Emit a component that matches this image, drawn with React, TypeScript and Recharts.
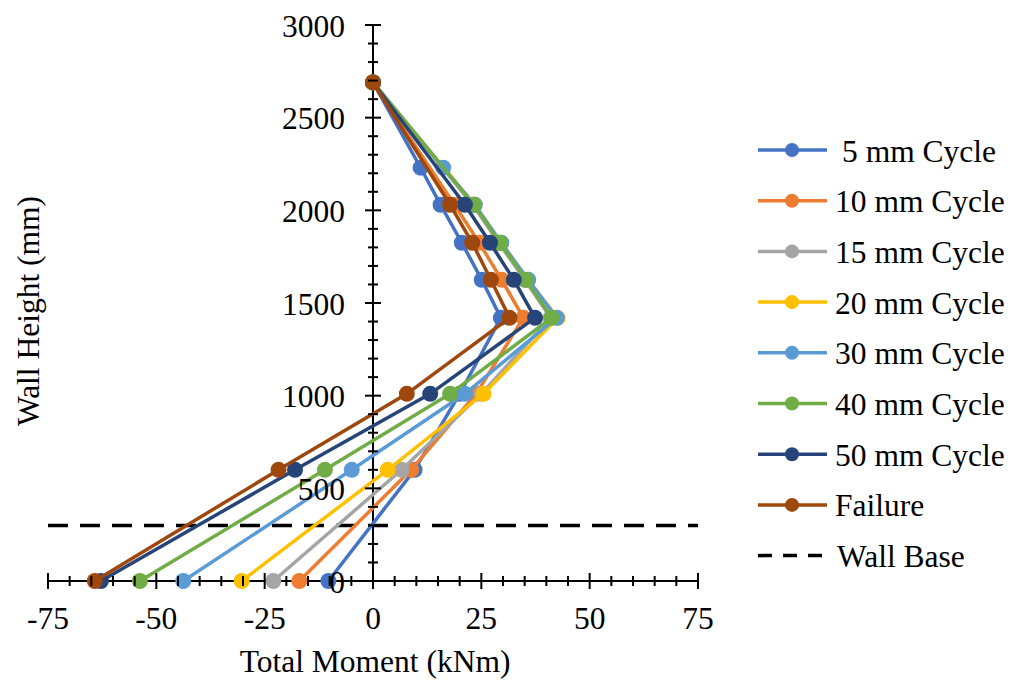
import React from "react";
import { ReferenceLine, Scatter, ScatterChart, XAxis, YAxis } from "recharts";

const FONT = "'Liberation Serif', 'Times New Roman', serif";

// wall heights (mm) where moments were read
const heights = [0, 600, 1010, 1420, 1625, 1825, 2030, 2230, 2690];

// total moment (kNm) at each height, null = no point at that height
const cycle5 = [-10.3, 9.6, 20.0, 29.5, 25.1, 20.5, 15.6, 11.0, 0];
const cycle10 = [-17.0, 8.8, 23.8, 34.7, 29.7, 24.5, 18.8, null, 0];
const cycle15 = [-23.0, 6.6, 25.0, 41.0, 35.0, 29.0, 23.0, null, 0];
const cycle20 = [-30.3, 3.4, 25.5, 42.6, 35.8, 29.6, 23.4, null, 0];
const cycle30 = [-43.8, -4.9, 21.2, 42.4, 35.8, 29.6, 23.5, 16.2, 0];
const cycle40 = [-53.8, -11.1, 17.8, 41.2, 35.3, 29.3, 23.3, null, 0];
const cycle50 = [-62.8, -18.0, 13.2, 37.4, 32.5, 27.0, 21.2, null, 0];
const failure = [-64.2, -21.8, 7.8, 31.5, 27.2, 22.9, 17.8, null, 0];

const wallBase = 300;

const xMajor = [-75, -50, -25, 0, 25, 50, 75];
const yMajor = [0, 500, 1000, 1500, 2000, 2500, 3000];
const xTicks = Array.from({ length: 31 }, (_, i) => -75 + i * 5);
const yTicks = Array.from({ length: 31 }, (_, i) => i * 100);

const SERIES = [
  { name: " 5 mm Cycle", values: cycle5, color: "#4472C4", textX: 834 },
  { name: "10 mm Cycle", values: cycle10, color: "#ED7D31", textX: 827 },
  { name: "15 mm Cycle", values: cycle15, color: "#A5A5A5", textX: 827 },
  { name: "20 mm Cycle", values: cycle20, color: "#FFC000", textX: 827 },
  { name: "30 mm Cycle", values: cycle30, color: "#5B9BD5", textX: 827 },
  { name: "40 mm Cycle", values: cycle40, color: "#70AD47", textX: 827 },
  { name: "50 mm Cycle", values: cycle50, color: "#264478", textX: 827 },
  { name: "Failure", values: failure, color: "#9E480E", textX: 827 }
];

const W = 1000;
const H = 665;
const FULL_H = 673;
const MARGIN = { top: 17, right: 310, bottom: 91, left: 39 };
const PLOT_W = W - MARGIN.left - 1 - MARGIN.right;
const R = 8;

function toPoints(values: (number | null)[]) {
  const pts: { x: number; y: number }[] = [];
  values.forEach((v, i) => {
    if (v !== null) pts.push({ x: v, y: heights[i] });
  });
  return pts;
}

function XTick(props: any) {
  const { x, y, payload } = props;
  const v = payload.value;
  const major = xMajor.includes(v);
  const len = major ? 8 : 5;
  return (
    <g>
      <line x1={x} x2={x} y1={y - len} y2={y + len} stroke="#000" strokeWidth={2} />
      {major && (
        <text x={x} y={y + 37} textAnchor="middle" dominantBaseline="central" fontFamily={FONT} fontSize={31.5} fill="#000">
          {v}
        </text>
      )}
    </g>
  );
}

function YTick(props: any) {
  const { x, y, payload } = props;
  const v = payload.value;
  const cx = x + PLOT_W / 2;
  const major = yMajor.includes(v);
  const len = major ? 8 : 5;
  return (
    <g>
      <line x1={cx - len} x2={cx + len} y1={y} y2={y} stroke="#000" strokeWidth={2} />
      {major && (
        <text x={cx - 28} y={y + 1} textAnchor="end" dominantBaseline="central" fontFamily={FONT} fontSize={31.5} fill="#000">
          {v}
        </text>
      )}
    </g>
  );
}

export default function App() {
  return (
    <div style={{ position: "relative", width: W, height: FULL_H, background: "#fff" }}>
      <ScatterChart width={W} height={H} margin={MARGIN}>
        <XAxis
          type="number"
          dataKey="x"
          domain={[-75, 75]}
          ticks={xTicks}
          interval={0}
          height={1}
          tickSize={0}
          tickMargin={0}
          tickLine={false}
          axisLine={{ stroke: "#000", strokeWidth: 2 }}
          tick={<XTick />}
        />
        <YAxis
          type="number"
          dataKey="y"
          domain={[0, 3000]}
          ticks={yTicks}
          interval={0}
          width={1}
          tickSize={0}
          tickMargin={0}
          tickLine={false}
          axisLine={false}
          tick={<YTick />}
        />
        <ReferenceLine x={0} stroke="#000" strokeWidth={2} />
        {SERIES.map((s) => (
          <Scatter
            key={s.name}
            name={s.name}
            data={toPoints(s.values)}
            fill={s.color}
            line={{ stroke: s.color, strokeWidth: 3.5 }}
            shape={(p: any) => <circle cx={p.cx} cy={p.cy} r={R} fill={s.color} />}
            isAnimationActive={false}
          />
        ))}
        <ReferenceLine y={wallBase} stroke="#000" strokeWidth={3.5} strokeDasharray="20 12" />
      </ScatterChart>

      <svg width={W} height={FULL_H} style={{ position: "absolute", left: 0, top: 0, pointerEvents: "none" }}>
        <text
          x={20}
          y={303}
          transform="rotate(-90 20 303)"
          textAnchor="middle"
          dominantBaseline="central"
          fontFamily={FONT}
          fontSize={31.5}
          fill="#000"
        >
          Wall Height (mm)
        </text>
        <text x={367} y={653} textAnchor="middle" dominantBaseline="central" fontFamily={FONT} fontSize={31.5} fill="#000">
          Total Moment (kNm)
        </text>
        {SERIES.map((s, i) => {
          const y = 142 + i * 50.7;
          return (
            <g key={s.name}>
              <line x1={750} x2={819} y1={y} y2={y} stroke={s.color} strokeWidth={3.5} />
              <circle cx={784} cy={y} r={7} fill={s.color} />
              <text x={s.textX} y={y + 1} dominantBaseline="central" fontFamily={FONT} fontSize={31.5} fill="#000">
                {s.name.trim()}
              </text>
            </g>
          );
        })}
        <g>
          <line x1={750} x2={819} y1={142 + 8 * 50.7} y2={142 + 8 * 50.7} stroke="#000" strokeWidth={3.5} strokeDasharray="14 11" />
          <text x={829} y={143 + 8 * 50.7} dominantBaseline="central" fontFamily={FONT} fontSize={31.5} fill="#000">
            Wall Base
          </text>
        </g>
      </svg>
    </div>
  );
}
